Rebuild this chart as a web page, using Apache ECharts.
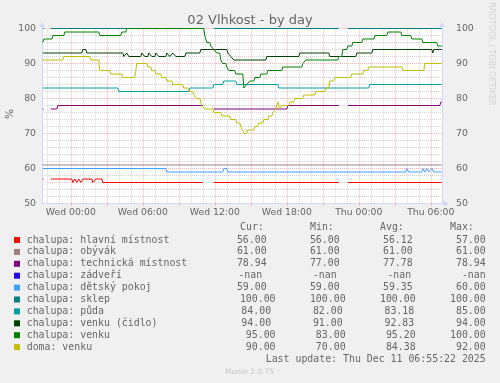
<!DOCTYPE html>
<html><head><meta charset="utf-8">
<script src="https://cdn.jsdelivr.net/npm/echarts@6/dist/echarts.min.js"></script>
<style>html,body{margin:0;padding:0;background:#f0f0f0}#c{width:500px;height:383px}</style>
</head><body><div id="c"></div><script>
// ---------- DATA ----------
const GRAPH_START = "Tue 21:36";
const GRAPH_END = "Thu 06:56";
const LAST_SAMPLE = "Thu 06:55";
const xTickLabels = ["Wed 00:00","Wed 06:00","Wed 12:00","Wed 18:00","Thu 00:00","Thu 06:00"];
const yTickValues = [50,60,70,80,90,100];

// each entry: [start time, value]; value holds until the next entry; null = no data
const hlavniMistnost = [["Tue 21:40",57],["Tue 21:50",null],["Tue 22:20",57],["Wed 00:10",56],["Wed 00:20",57],["Wed 00:30",56],["Wed 00:40",57],["Wed 00:50",56],["Wed 01:00",57],["Wed 01:50",56],["Wed 02:05",57],["Wed 02:40",56],["Wed 11:05",null],["Wed 11:55",56],["Wed 22:25",null],["Wed 23:05",56]];
const obyvak = [["Tue 21:40",61]];
const technickaMistnost = [["Tue 21:40",77],["Tue 21:50",null],["Tue 22:20",77],["Tue 22:55",78],["Wed 11:05",null],["Wed 11:55",77],["Wed 18:05",78],["Wed 22:25",null],["Wed 23:05",78],["Thu 06:50",78.94]];
const zadveri = [];
const detskyPokoj = [["Tue 21:40",60],["Wed 08:00",59],["Wed 12:45",60],["Wed 13:05",59],["Thu 04:00",60],["Thu 04:10",59],["Thu 05:20",60],["Thu 05:30",59],["Thu 05:40",60],["Thu 05:50",59],["Thu 06:05",60],["Thu 06:15",59]];
const sklep = [["Tue 21:40",100],["Tue 21:50",null],["Tue 22:20",100],["Wed 11:05",null],["Wed 11:55",100],["Wed 22:25",null],["Wed 23:05",100]];
const puda = [["Tue 21:40",83],["Wed 04:00",82],["Wed 09:55",83],["Wed 11:55",84],["Wed 12:45",85],["Wed 13:50",84],["Wed 17:20",83],["Thu 00:55",84]];
const venkuCidlo = [["Tue 21:40",93],["Wed 01:00",94],["Wed 01:20",93],["Wed 04:25",92],["Wed 04:40",93],["Wed 04:50",92],["Wed 05:55",93],["Wed 06:10",92],["Wed 06:30",93],["Wed 06:45",92],["Wed 07:05",93],["Wed 07:20",92],["Wed 08:00",93],["Wed 08:15",92],["Wed 08:30",93],["Wed 08:45",92],["Wed 09:35",93],["Wed 10:50",94],["Wed 13:05",93],["Wed 13:20",92],["Wed 13:35",91],["Wed 16:20",92],["Wed 19:05",93],["Wed 21:35",92],["Wed 23:50",93],["Thu 01:10",94],["Thu 06:10",93],["Thu 06:15",94]];
const venku = [["Tue 21:40",96],["Tue 21:45",97],["Tue 22:30",98],["Tue 23:30",99],["Wed 02:25",98],["Wed 04:15",99],["Wed 04:40",100],["Wed 11:10",98],["Wed 11:20",96],["Wed 11:40",95],["Wed 11:55",94],["Wed 12:10",93],["Wed 12:30",91],["Wed 12:40",90],["Wed 13:00",89],["Wed 13:10",88],["Wed 13:45",87],["Wed 14:25",83],["Wed 14:40",84],["Wed 14:55",85],["Wed 15:20",86],["Wed 15:50",87],["Wed 16:25",88],["Wed 17:40",89],["Wed 19:20",90],["Wed 19:35",91],["Wed 22:20",92],["Wed 22:40",94],["Wed 23:05",95],["Wed 23:30",96],["Thu 00:20",97],["Thu 01:20",98],["Thu 02:25",99],["Thu 03:35",98],["Thu 04:25",97],["Thu 05:20",96],["Thu 06:35",95]];
const domaVenku = [["Tue 21:40",91],["Tue 23:25",92],["Wed 01:40",91],["Wed 02:25",88],["Wed 03:20",87],["Wed 04:20",86],["Wed 05:25",88],["Wed 05:30",90],["Wed 06:25",89],["Wed 06:45",88],["Wed 07:05",87],["Wed 07:35",86],["Wed 08:00",85],["Wed 08:30",84],["Wed 09:25",83],["Wed 09:50",82],["Wed 10:15",81],["Wed 10:30",80],["Wed 10:50",79],["Wed 10:55",78],["Wed 11:10",77],["Wed 11:55",76],["Wed 12:35",75],["Wed 13:20",74],["Wed 13:50",73],["Wed 14:10",72],["Wed 14:25",70],["Wed 14:45",71],["Wed 15:20",72],["Wed 15:40",73],["Wed 16:05",74],["Wed 16:30",75],["Wed 16:50",76],["Wed 17:05",77],["Wed 17:15",79],["Wed 17:25",77],["Wed 17:35",78],["Wed 18:15",79],["Wed 18:40",80],["Wed 19:25",81],["Wed 20:25",82],["Wed 21:15",83],["Wed 21:35",85],["Wed 22:00",86],["Wed 23:25",87],["Thu 00:25",88],["Thu 00:50",89],["Thu 03:40",88],["Thu 05:30",90]];

const seriesLabels = ["chalupa: hlavní místnost","chalupa: obývák","chalupa: technická místnost","chalupa: zádveří","chalupa: dětský pokoj","chalupa: sklep","chalupa: půda","chalupa: venku (čidlo)","chalupa: venku","doma: venku"];
const seriesData = [hlavniMistnost,obyvak,technickaMistnost,zadveri,detskyPokoj,sklep,puda,venkuCidlo,venku,domaVenku];
const curValues = [56.00,61.00,78.94,NaN,59.00,100.00,84.00,94.00,95.00,90.00];
const minValues = [56.00,61.00,77.00,NaN,59.00,100.00,82.00,91.00,83.00,70.00];
const avgValues = [56.12,61.00,77.78,NaN,59.35,100.00,83.18,92.83,95.20,84.38];
const maxValues = [57.00,61.00,78.94,NaN,60.00,100.00,85.00,94.00,100.00,92.00];
const columnHeaders = ["Cur:","Min:","Avg:","Max:"];
const titleText = "02 Vlhkost - by day";
const yAxisTitle = "%";
const lastUpdate = "Last update: Thu Dec 11 06:55:22 2025";
const versionText = "Munin 2.0.75";
const watermark = "RRDTOOL / TOBI OETIKER";

// ---------- STYLE ----------
const seriesColors = ["#FF0000","#A08080","#800080","#2200FF","#40A0FF","#008080","#00A0A0","#004000","#008000","#C0C000"];
const FONT_COLOR = "#666666";
const AXIS_COLOR = "#CFD6F8";
const MAJOR_GRID = "rgba(255,110,110,0.55)";
const MINOR_GRID = "#d4d4d4";
const MONO = '"DejaVu Sans Mono", monospace';
const SANS = '"DejaVu Sans", sans-serif';

// ---------- HELPERS ----------
const DAY = {Tue:-1, Wed:0, Thu:1};
function hours(s){const p=s.split(' ');const hm=p[1].split(':').map(Number);return DAY[p[0]]*24+hm[0]+hm[1]/60;}
const STEP = 5/60;
function toLine(steps){
  const out=[];
  for(let i=0;i<steps.length;i++){
    const ts=steps[i][0], v=steps[i][1];
    const t0=hours(ts);
    if(v===null){out.push([t0,null]);continue;}
    const t1=(i+1<steps.length?hours(steps[i+1][0]):hours(LAST_SAMPLE)+STEP)-STEP;
    out.push([t0,v]);
    if(t1>t0+1e-6) out.push([t1,v]);
  }
  return out;
}
const X_MIN=hours(GRAPH_START), X_MAX=hours(GRAPH_END);
const labelVals=xTickLabels.map(hours);
const majorVals=[], minorVals=[];
for(let h=Math.ceil(X_MIN);h<=X_MAX;h++){ if(((h%3)+3)%3===0) majorVals.push(h); else minorVals.push(h); }

// ---------- LEGEND LAYOUT ----------
const CW=5.96, LINE_START=26.7, LINE_END=485.7, PAD_BYTES=30;
const ROW0=240, ROW_H=11.9;
function fmt(v){return isNaN(v)?'-nan':v.toFixed(2);}
const graphic=[];
graphic.push({type:'text',x:250,y:20.5,style:{text:titleText,fill:FONT_COLOR,font:'13px '+SANS,align:'center',verticalAlign:'middle'}});
graphic.push({type:'text',x:10,y:114,rotation:Math.PI/2,style:{text:yAxisTitle,fill:FONT_COLOR,font:'10.5px '+SANS,align:'center',verticalAlign:'middle'}});
graphic.push({type:'text',x:491,y:54,rotation:-Math.PI/2,style:{text:watermark,fill:'#d2d2d2',font:'8px '+SANS,align:'center',verticalAlign:'middle'}});
const headerX=[240,310,380,450];
columnHeaders.forEach((h,k)=>graphic.push({type:'text',x:headerX[k],y:227,style:{text:h,fill:FONT_COLOR,font:'9.9px '+MONO,align:'left',verticalAlign:'middle'}}));
const enc=new TextEncoder();
seriesLabels.forEach((lab,i)=>{
  const y=ROW0+i*ROW_H;
  graphic.push({type:'rect',shape:{x:14,y:y-3,width:6,height:6},style:{fill:seriesColors[i]}});
  graphic.push({type:'text',x:LINE_START,y:y,style:{text:lab,fill:FONT_COLOR,font:'9.9px '+MONO,align:'left',verticalAlign:'middle'}});
  const extra=enc.encode(lab).length-lab.length;
  const P=PAD_BYTES-extra;
  const gap=(LINE_END-LINE_START-(P+24)*CW)/4;
  [curValues,minValues,avgValues,maxValues].forEach((arr,k)=>{
    const end=LINE_START+P*CW+(k+1)*gap+(k+1)*6*CW;
    graphic.push({type:'text',x:end,y:y,style:{text:fmt(arr[i]),fill:FONT_COLOR,font:'9.9px '+MONO,align:'right',verticalAlign:'middle'}});
  });
});
graphic.push({type:'text',x:LINE_END,y:359,style:{text:lastUpdate,fill:FONT_COLOR,font:'9.9px '+MONO,align:'right',verticalAlign:'middle'}});
graphic.push({type:'text',x:249.5,y:372.5,style:{text:versionText,fill:'#c4c4c4',font:'7.5px '+SANS,align:'center',verticalAlign:'middle'}});

// ---------- CHART ----------
const chart=echarts.init(document.getElementById('c'),null,{renderer:'canvas'});
const axisLineCfg={show:true,onZero:false,lineStyle:{color:AXIS_COLOR,width:1},symbol:['none','triangle'],symbolSize:[6,5],symbolOffset:[0,4]};
chart.setOption({
  animation:false,
  backgroundColor:'#f0f0f0',
  grid:{left:42,top:28.5,width:400,height:175,show:true,backgroundColor:'#ffffff',borderWidth:0},
  xAxis:[
    {type:'value',position:'top',min:X_MIN,max:X_MAX,axisLine:{show:false},axisLabel:{show:false},
     axisTick:{show:false,customValues:minorVals},splitLine:{show:true,lineStyle:{color:MINOR_GRID,type:[1,1],width:1}}},
    {type:'value',position:'bottom',min:X_MIN,max:X_MAX,axisLine:axisLineCfg,
     axisTick:{show:true,customValues:majorVals,length:2,lineStyle:{color:MAJOR_GRID}},
     axisLabel:{customValues:labelVals,color:FONT_COLOR,fontSize:9.3,fontFamily:SANS,margin:5,
       formatter:function(v){for(let k=0;k<labelVals.length;k++){if(Math.abs(labelVals[k]-v)<1e-6)return xTickLabels[k];}return '';}},
     splitLine:{show:true,lineStyle:{color:MAJOR_GRID,type:[1,1],width:1}}}
  ],
  yAxis:[
    {type:'value',min:yTickValues[0],max:yTickValues[yTickValues.length-1],interval:10,axisLine:axisLineCfg,axisTick:{show:false},
     axisLabel:{color:FONT_COLOR,fontSize:9.3,fontFamily:SANS,margin:6},
     splitLine:{show:true,lineStyle:{color:MAJOR_GRID,type:[1,1],width:1}},
     minorTick:{show:false,splitNumber:5},minorSplitLine:{show:true,lineStyle:{color:MINOR_GRID,type:[1,1],width:1}}},
    {type:'value',position:'right',min:yTickValues[0],max:yTickValues[yTickValues.length-1],interval:10,axisLine:axisLineCfg,axisTick:{show:false},
     axisLabel:{color:FONT_COLOR,fontSize:9.3,fontFamily:SANS,margin:14},splitLine:{show:false}}
  ],
  series:seriesData.map((d,i)=>({
    type:'line',name:seriesLabels[i],xAxisIndex:1,yAxisIndex:0,data:toLine(d),showSymbol:false,symbol:'none',
    connectNulls:false,lineStyle:{color:seriesColors[i],width:1},itemStyle:{color:seriesColors[i]},silent:true,emphasis:{disabled:true}
  })),
  graphic:graphic
});
</script></body></html>
